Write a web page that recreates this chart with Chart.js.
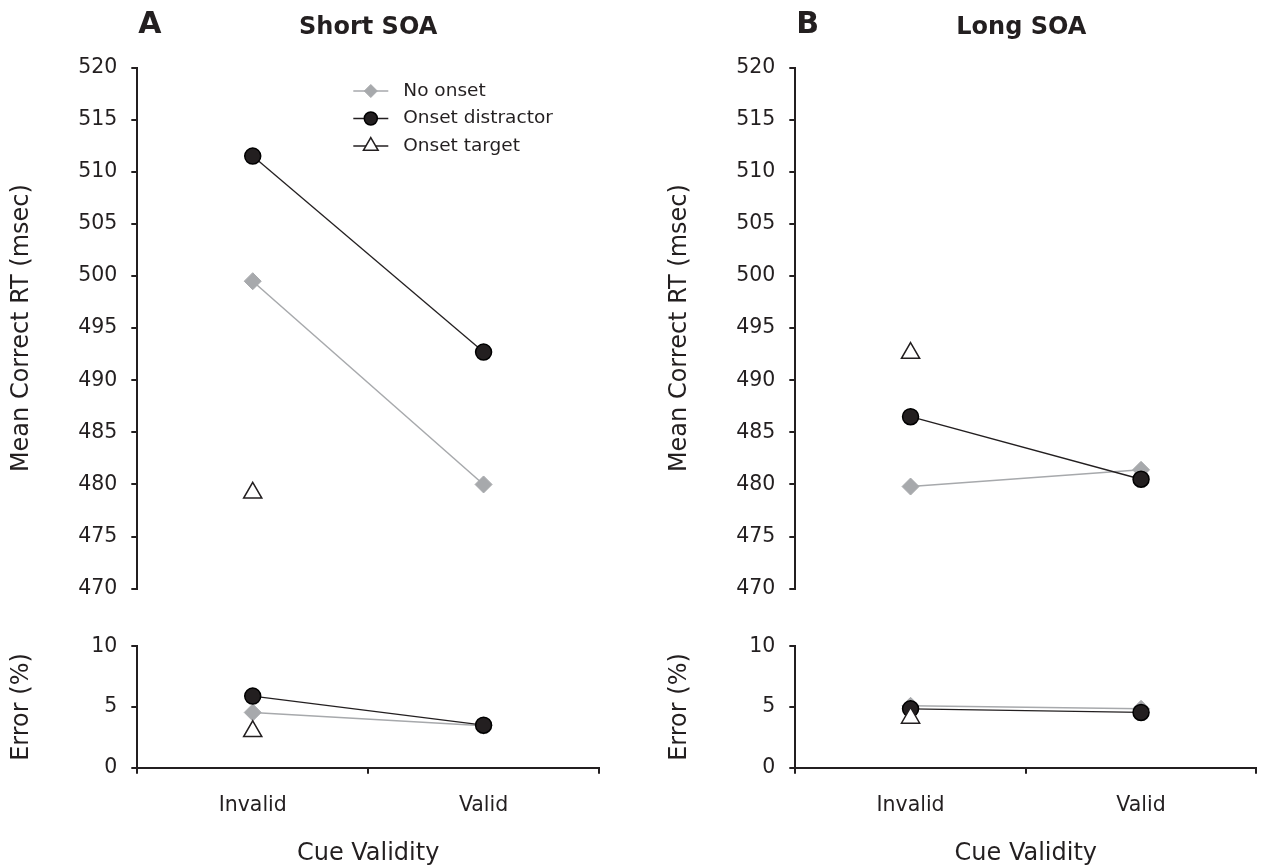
<!DOCTYPE html>
<html>
<head>
<meta charset="utf-8">
<script src="https://cdn.jsdelivr.net/npm/chart.js@4/dist/chart.umd.min.js"></script>
<style>
html,body{margin:0;padding:0;background:#fff;overflow:hidden;width:1261px;height:867px;}
canvas{position:absolute;display:block;}
</style>
</head>
<body>
<canvas id="cA1" width="620" height="615" style="left:0px;top:0px;"></canvas>
<canvas id="cA2" width="620" height="248" style="left:0px;top:620px;"></canvas>
<canvas id="cB1" width="603" height="615" style="left:658px;top:0px;"></canvas>
<canvas id="cB2" width="603" height="248" style="left:658px;top:620px;"></canvas>
<script>
// ---------- data ----------
const categories = ['Invalid', 'Valid'];
const seriesNames = ['No onset', 'Onset distractor', 'Onset target'];

const shortRT_noOnset     = [499.5, 480.0];
const shortRT_distractor  = [511.5, 492.7];
const shortRT_target      = [479.2, null];
const shortErr_noOnset    = [4.55, 3.45];
const shortErr_distractor = [5.9, 3.5];
const shortErr_target     = [3.0, null];

const longRT_noOnset      = [479.8, 481.4];
const longRT_distractor   = [486.5, 480.5];
const longRT_target       = [492.6, null];
const longErr_noOnset     = [5.1, 4.85];
const longErr_distractor  = [4.85, 4.55];
const longErr_target      = [4.1, null];

const rtTicks  = [470, 475, 480, 485, 490, 495, 500, 505, 510, 515, 520];
const errTicks = [0, 5, 10];

const panelLabels = ['A', 'B'];
const panelTitles = ['Short SOA', 'Long SOA'];
const rtTitle  = 'Mean Correct RT (msec)';
const errTitle = 'Error (%)';
const xTitle   = 'Cue Validity';

// ---------- styles ----------
const INK  = '#231f20';
const GREY = '#a7a9ac';
const FONT = '"DejaVu Sans", Verdana, sans-serif';
const YAXIS_W = 137.3;
const TICK_SIZE = 20.5;
const TITLE_SIZE = 24;

function makeDatasets(noOnset, distractor, target) {
  return [
    { label: seriesNames[0], data: noOnset, borderColor: GREY, borderWidth: 1.5,
      pointStyle: 'rectRot', pointRadius: 8.5, pointBackgroundColor: GREY,
      pointBorderColor: GREY, pointBorderWidth: 1, order: 2, tension: 0 },
    { label: seriesNames[1], data: distractor, borderColor: INK, borderWidth: 1.3,
      pointStyle: 'circle', pointRadius: 8, pointBackgroundColor: INK,
      pointBorderColor: '#000', pointBorderWidth: 1.5, order: 1, tension: 0 },
    { label: seriesNames[2], data: target, borderColor: INK, borderWidth: 1.3, showLine: false,
      pointStyle: 'triangle', pointRadius: 10.5, pointBackgroundColor: '#fff',
      pointBorderColor: INK, pointBorderWidth: 1.5, order: 0 }
  ];
}

function yScale(ticks, title) {
  return {
    min: ticks[0], max: ticks[ticks.length - 1],
    afterBuildTicks: s => { s.ticks = ticks.map(v => ({ value: v })); },
    afterFit: s => { s.width = YAXIS_W; },
    border: { display: true, color: INK, width: 2 },
    grid: { display: true, drawOnChartArea: false, drawTicks: true, tickLength: 6, color: INK, lineWidth: 2 },
    ticks: { color: INK, font: { family: FONT, size: TICK_SIZE }, padding: 14 },
    title: { display: true, text: title, color: INK, font: { family: FONT, size: TITLE_SIZE }, padding: { top: 7.5, bottom: 0 } }
  };
}

function xScale(showAxis, h) {
  if (!showAxis) return { type: 'category', labels: categories, offset: true, display: false };
  return {
    type: 'category', labels: categories, offset: true,
    afterFit: s => { s.height = h; },
    border: { display: true, color: INK, width: 2 },
    grid: { display: true, offset: true, drawOnChartArea: false, drawTicks: true, tickLength: 6, color: INK, lineWidth: 2 },
    ticks: { color: INK, font: { family: FONT, size: TICK_SIZE }, padding: 20, maxRotation: 0, autoSkip: false },
    title: { display: true, text: xTitle, color: INK, font: { family: FONT, size: TITLE_SIZE }, padding: { top: 0, bottom: 0 } }
  };
}

const panelTextPlugin = {
  id: 'panelText',
  afterDraw(chart, args, opts) {
    if (!opts || !opts.label) return;
    const ctx = chart.ctx, ca = chart.chartArea;
    ctx.save();
    ctx.fillStyle = INK;
    ctx.textBaseline = 'middle';
    ctx.textAlign = 'left';
    ctx.font = 'bold 30px ' + FONT;
    ctx.fillText(opts.label, ca.left + 1, 25.5);
    ctx.textAlign = 'center';
    ctx.font = 'bold 24px ' + FONT;
    ctx.fillText(opts.title, (ca.left + ca.right) / 2 + opts.titleShift, 27.5);
    ctx.restore();
  }
};

const legendPlugin = {
  id: 'customLegend',
  afterDraw(chart, args, opts) {
    if (!opts || !opts.show) return;
    const ctx = chart.ctx, ca = chart.chartArea;
    const x0 = ca.left + 216, x1 = ca.left + 251, xm = ca.left + 233.5, xt = ca.left + 266;
    const rows = [91, 118.5, 146];
    const ds = chart.data.datasets;
    ctx.save();
    ds.forEach((d, i) => {
      const y = rows[i];
      ctx.beginPath();
      ctx.strokeStyle = d.borderColor;
      ctx.lineWidth = d.borderWidth;
      ctx.moveTo(x0, y); ctx.lineTo(x1, y); ctx.stroke();
      ctx.beginPath();
      if (d.pointStyle === 'rectRot') {
        const r = 6.5;
        ctx.moveTo(xm, y - r); ctx.lineTo(xm + r, y); ctx.lineTo(xm, y + r); ctx.lineTo(xm - r, y); ctx.closePath();
      } else if (d.pointStyle === 'circle') {
        ctx.arc(xm, y, 6.5, 0, Math.PI * 2);
      } else {
        const r = 8.5;
        ctx.moveTo(xm, y - r);
        ctx.lineTo(xm + r * Math.sin(2 * Math.PI / 3), y - r * Math.cos(2 * Math.PI / 3));
        ctx.lineTo(xm + r * Math.sin(4 * Math.PI / 3), y - r * Math.cos(4 * Math.PI / 3));
        ctx.closePath();
      }
      ctx.fillStyle = d.pointBackgroundColor;
      ctx.fill();
      ctx.lineWidth = d.pointBorderWidth;
      ctx.strokeStyle = d.pointBorderColor;
      ctx.stroke();
      ctx.fillStyle = INK;
      ctx.font = '18.5px ' + FONT;
      ctx.textAlign = 'left';
      ctx.textBaseline = 'middle';
      ctx.fillText(d.label, xt, y);
    });
    ctx.restore();
  }
};

function makeTop(id, datasets, padRight, panelIdx, showLegend) {
  const canvas = document.getElementById(id);
  const H = canvas.height;
  return new Chart(canvas, {
    type: 'line',
    data: { labels: categories, datasets: datasets },
    options: {
      responsive: false,
      animation: false,
      devicePixelRatio: 1,
      events: [],
      layout: { padding: { top: 67.5, bottom: H - 597.3, left: 0, right: padRight }, autoPadding: false },
      scales: {
        x: xScale(false),
        y: yScale(rtTicks, rtTitle)
      },
      plugins: {
        legend: { display: false },
        tooltip: { enabled: false },
        title: { display: false },
        panelText: { label: panelLabels[panelIdx], title: panelTitles[panelIdx], titleShift: panelIdx === 1 ? -4.5 : 0 },
        customLegend: { show: !!showLegend }
      }
    },
    plugins: [panelTextPlugin, legendPlugin]
  });
}

// bottom canvases start at y=620; x axis line at page y 767.7 -> canvas y 147.7
function makeBottom(id, datasets, padRight) {
  const canvas = document.getElementById(id);
  const H = canvas.height;
  return new Chart(canvas, {
    type: 'line',
    data: { labels: categories, datasets: datasets },
    options: {
      responsive: false,
      animation: false,
      devicePixelRatio: 1,
      events: [],
      layout: { padding: { top: 22.3, bottom: 0, left: 0, right: padRight }, autoPadding: false },
      scales: {
        x: xScale(true, H - 147.7),
        y: yScale(errTicks, errTitle)
      },
      plugins: { legend: { display: false }, tooltip: { enabled: false }, title: { display: false } }
    }
  });
}

makeTop('cA1', makeDatasets(shortRT_noOnset, shortRT_distractor, shortRT_target), 620 - 599, 0, true);
makeBottom('cA2', makeDatasets(shortErr_noOnset, shortErr_distractor, shortErr_target), 620 - 599);
makeTop('cB1', makeDatasets(longRT_noOnset, longRT_distractor, longRT_target), 603 - 137.3 - 461, 1, false);
makeBottom('cB2', makeDatasets(longErr_noOnset, longErr_distractor, longErr_target), 603 - 137.3 - 461);
</script>
</body>
</html>
